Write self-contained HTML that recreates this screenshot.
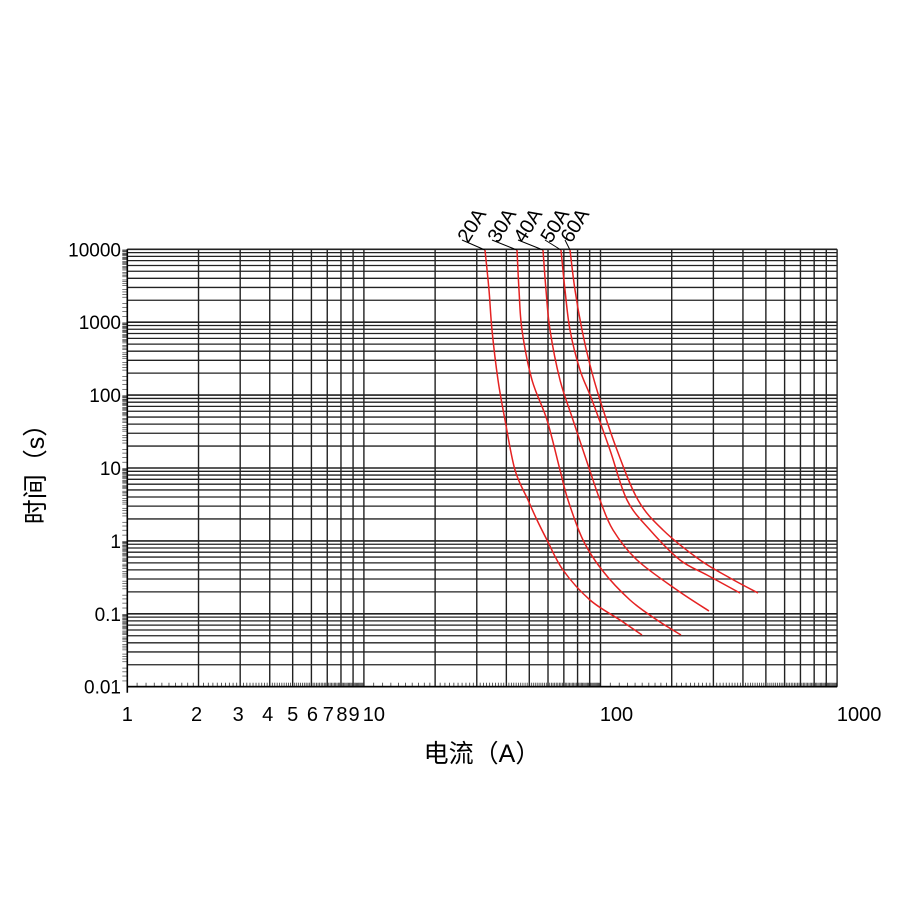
<!DOCTYPE html>
<html><head><meta charset="utf-8"><style>
html,body{margin:0;padding:0;background:#fff;}
svg{display:block;}
text{font-family:"Liberation Sans","Noto Sans CJK SC",sans-serif;fill:#000;}
</style></head><body>
<svg id="s" width="900" height="900" xmlns="http://www.w3.org/2000/svg"></svg>
<script>
const s=document.getElementById('s');
const X0=127.3,XD=236.6,Y0=686.7,YD=72.9;
const fx=v=>X0+Math.log10(v)*XD, fy=v=>Y0-(Math.log10(v)+2)*YD;
let h='';
for(let e=-2;e<4;e++)for(let m=1;m<10;m++){const y=fy(m*Math.pow(10,e));
 h+=`<line x1="${X0}" x2="${fx(1000)}" y1="${y}" y2="${y}" stroke="#222" stroke-width="${m==1?1.6:1.3}"/>`;
 for(let k=2;k<10;k+=2){const yy=fy((m+k/10)*Math.pow(10,e));h+=`<line x1="${X0-5}" x2="${X0}" y1="${yy}" y2="${yy}" stroke="#444" stroke-width="0.7"/>`;}}
h+=`<line x1="${X0}" x2="${fx(1000)}" y1="${fy(10000)}" y2="${fy(10000)}" stroke="#222" stroke-width="1.6"/>`;
for(let e=0;e<3;e++)for(let m=1;m<10;m++){const x=fx(m*Math.pow(10,e));
 h+=`<line x1="${x}" x2="${x}" y1="${fy(10000)}" y2="${Y0}" stroke="#222" stroke-width="1.4"/>`;
 for(let k=1;k<10;k++){const xx=fx((m+k/10)*Math.pow(10,e));h+=`<line x1="${xx}" x2="${xx}" y1="${Y0-4}" y2="${Y0}" stroke="#333" stroke-width="0.8"/>`;}}
h+=`<line x1="${fx(1000)}" x2="${fx(1000)}" y1="${fy(10000)}" y2="${Y0}" stroke="#222" stroke-width="1.4"/>`;
h+=`<line x1="${X0}" x2="${X0}" y1="${fy(10000)}" y2="${Y0+6}" stroke="#000" stroke-width="1.6"/>`;
h+=`<line x1="${X0}" x2="${fx(1000)}" y1="${Y0}" y2="${Y0}" stroke="#000" stroke-width="1.6"/>`;
['0.01','0.1','1','10','100','1000','10000'].forEach((t,i)=>{h+=`<text x="121" y="${fy(Math.pow(10,i-2))+7}" font-size="19" text-anchor="end">${t}</text>`;});
[[1,'1',0],[2,'2',-2],[3,'3',-2],[4,'4',-2],[5,'5',0],[6,'6',1],[7,'7',1],[8,'8',1],[9,'9',1]].forEach(([v,t,o])=>{h+=`<text x="${fx(v)+o}" y="721" font-size="20" text-anchor="middle">${t}</text>`;});
h+=`<text x="${fx(10)+10}" y="721" font-size="20" text-anchor="middle">10</text>`;
h+=`<text x="${fx(100)+16}" y="721" font-size="20" text-anchor="middle">100</text>`;
h+=`<text x="${fx(1000)+22}" y="721" font-size="20" text-anchor="middle">1000</text>`;
h+=`<text x="482" y="762" font-size="25" text-anchor="middle">电流（A）</text>`;
h+=`<text transform="translate(44,468) rotate(-90)" font-size="25" text-anchor="middle">时间（s）</text>`;
const C=[
[[485,250],[489,290],[492,330],[498,380],[505,420],[515,470],[528,500],[537,520],[547,540],[563,570],[590,600],[620,620],[642,635]],
[[517,250],[519,290],[522,330],[532,380],[547,420],[560,470],[568,500],[583,540],[602,570],[630,600],[657,620],[681,635]],
[[543,250],[546,290],[550,330],[560,380],[573,420],[588,465],[600,500],[613,530],[637,560],[677,590],[709,611]],
[[561,250],[565,290],[570,330],[580,370],[592,400],[610,450],[627,500],[650,530],[680,560],[707,575],[740,593]],
[[570,250],[575,290],[582,330],[590,365],[600,400],[617,450],[638,500],[663,530],[700,560],[730,578],[758,593]]];
C.forEach(p=>{let d='M'+p[0].join(',');
 for(let i=0;i<p.length-1;i++){const a=p[Math.max(i-1,0)],b=p[i],c=p[i+1],e=p[Math.min(i+2,p.length-1)];
  const c1=[b[0]+(c[0]-a[0])/6,b[1]+(c[1]-a[1])/6],c2=[c[0]-(e[0]-b[0])/6,c[1]-(e[1]-b[1])/6];
  d+=` C${c1.join(',')} ${c2.join(',')} ${c.join(',')}`;}
 h+=`<path d="${d}" fill="none" stroke="#e52222" stroke-width="1.5"/>`;});
const L=[['20A',468,246,485],['30A',498,246,517],['40A',524,246,543],['50A',551,246,561],['60A',571,246,570]];
L.forEach(([t,x,y,cx])=>{h+=`<text transform="translate(${x},${y-2}) rotate(-58)" font-size="20">${t}</text>`;
 h+=`<line x1="${x-6}" y1="${y-6}" x2="${cx}" y2="250" stroke="#000" stroke-width="1"/>`;});
s.innerHTML=h;
</script>
</body></html>
